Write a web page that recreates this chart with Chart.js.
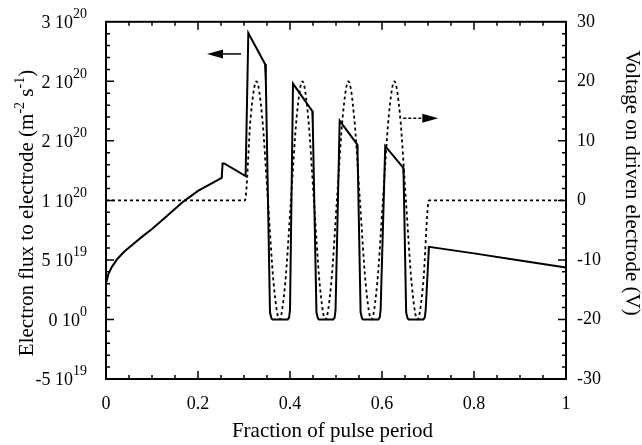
<!DOCTYPE html>
<html>
<head>
<meta charset="utf-8">
<script src="https://cdn.jsdelivr.net/npm/chart.js@4.4.0/dist/chart.umd.min.js"></script>
<style>
  html, body { margin: 0; padding: 0; background: #fff; }
  #chart { display: block; }
</style>
</head>
<body>
<canvas id="chart" width="642" height="445"></canvas>
<script>
// electron flux (solid line, left axis), in units of 1e20 m^-2 s^-1
const fluxX = [0, 0.005, 0.0125, 0.025, 0.04, 0.06, 0.08, 0.1, 0.13, 0.168, 0.2, 0.2515,
    0.2535, 0.257, 0.3035, 0.3094, 0.3457, 0.3475, 0.3565, 0.3595, 0.362,
    0.395, 0.398, 0.4, 0.4065, 0.4485, 0.4495, 0.4575, 0.4605, 0.463,
    0.494, 0.497, 0.499, 0.508, 0.546, 0.547, 0.5535, 0.5565, 0.559,
    0.592, 0.595, 0.597, 0.607, 0.646, 0.647, 0.6525, 0.6555, 0.658,
    0.69, 0.693, 0.695, 0.702, 0.8, 0.9, 1.0];
const fluxE20 = [0.30, 0.38, 0.44, 0.51, 0.57, 0.635, 0.70, 0.76, 0.86, 0.99, 1.08, 1.19,
    1.31, 1.31, 1.205, 2.405, 2.146, 2.0, 0.06, 0.01, 0,
    0, 0.015, 0.08, 1.98, 1.75, 1.65, 0.06, 0.01, 0,
    0, 0.015, 0.08, 1.67, 1.47, 1.38, 0.06, 0.01, 0,
    0, 0.015, 0.08, 1.455, 1.275, 1.2, 0.06, 0.01, 0,
    0, 0.015, 0.08, 0.61, 0.555, 0.495, 0.436];

// voltage on driven electrode (dashed line, right axis), V
const voltX = [0, 0.302, 0.3145, 0.327, 0.3395, 0.352, 0.3645, 0.377, 0.3895,
    0.402, 0.4145, 0.427, 0.4395, 0.452, 0.4645, 0.477, 0.4895,
    0.502, 0.5145, 0.527, 0.5395, 0.552, 0.5645, 0.577, 0.5895,
    0.602, 0.6145, 0.627, 0.6395, 0.652, 0.6645, 0.677, 0.6895,
    0.702, 1.0];
const voltY = [0, 0, 14, 20, 14, 0, -14, -20, -14,
    0, 14, 20, 14, 0, -14, -20, -14,
    0, 14, 20, 14, 0, -14, -20, -14,
    0, 14, 20, 14, 0, -14, -20, -14,
    0, 0];

// axes
const xTicks = [0, 0.2, 0.4, 0.6, 0.8, 1];
const xTickLabels = ['0', '0.2', '0.4', '0.6', '0.8', '1'];
const fluxTicks = [-0.5, 0, 0.5, 1, 1.5, 2, 2.5];
const fluxTickMantissa = ['-5', '0', '5', '1', '2', '2', '3'];
const fluxTickExponent = ['19', '0', '19', '20', '20', '20', '20'];
const voltTicks = [-30, -20, -10, 0, 10, 20, 30];
const voltTickLabels = ['-30', '-20', '-10', '0', '10', '20', '30'];

const SERIF = '"Liberation Serif", "Times New Roman", serif';

// arrows telling which axis belongs to which curve
const leftArrow = { tail: 0.2935, tip: 0.2196, y: 2.23, axis: 'yFlux', dash: [] };
const rightArrow = { tail: 0.6463, tip: 0.7224, y: 13.8, axis: 'yVolt', dash: [3, 2] };

// 坐标框、刻度、标题
const framePlugin = {
    id: 'frame',
    afterDraw(chart) {
        const ctx = chart.ctx;
        const ca = chart.chartArea;
        const xs = chart.scales.x;
        const yf = chart.scales.yFlux;
        const yv = chart.scales.yVolt;
        ctx.save();
        ctx.strokeStyle = '#000';
        ctx.fillStyle = '#000';
        ctx.lineWidth = 2;
        ctx.strokeRect(ca.left, ca.top, ca.right - ca.left, ca.bottom - ca.top);

        // inward ticks
        ctx.lineWidth = 1.5;
        ctx.beginPath();
        for (let i = 1; i < 20; i++) {
            const px = xs.getPixelForValue(i * 0.05);
            const len = i % 4 === 0 ? 8 : 4;
            ctx.moveTo(px, ca.bottom); ctx.lineTo(px, ca.bottom - len);
            ctx.moveTo(px, ca.top); ctx.lineTo(px, ca.top + len);
        }
        for (let i = -4; i < 25; i++) {
            const py = yf.getPixelForValue(i * 0.1);
            const len = i % 5 === 0 ? 8 : 4;
            ctx.moveTo(ca.left, py); ctx.lineTo(ca.left + len, py);
        }
        for (let i = -14; i < 15; i++) {
            const py = yv.getPixelForValue(i * 2);
            const len = i % 5 === 0 ? 8 : 4;
            ctx.moveTo(ca.right, py); ctx.lineTo(ca.right - len, py);
        }
        ctx.stroke();

        // left tick labels with superscript exponents
        ctx.textAlign = 'right';
        ctx.textBaseline = 'alphabetic';
        fluxTicks.forEach((v, i) => {
            const py = yf.getPixelForValue(v);
            ctx.font = '14px ' + SERIF;
            const wE = ctx.measureText(fluxTickExponent[i]).width;
            ctx.fillText(fluxTickExponent[i], 87, py - 3.6);
            ctx.font = '18px ' + SERIF;
            ctx.fillText(fluxTickMantissa[i] + ' 10', 87 - wE, py + 6.4);
        });

        // x title
        ctx.font = '21px ' + SERIF;
        ctx.textAlign = 'center';
        ctx.fillText('Fraction of pulse period', 332.5, 437);

        // right title
        ctx.save();
        ctx.translate(626, 183);
        ctx.rotate(Math.PI / 2);
        ctx.fillText('Voltage on driven electrode (V)', 0, 0);
        ctx.restore();

        // left title with superscripts
        const parts = [['Electron flux to electrode (m', false], ['-2', true], [' s', false], ['-1', true], [')', false]];
        const widths = parts.map(p => {
            ctx.font = (p[1] ? '14px ' : '21px ') + SERIF;
            return ctx.measureText(p[0]).width;
        });
        const total = widths.reduce((a, b) => a + b, 0);
        ctx.save();
        ctx.translate(32.5, 213);
        ctx.rotate(-Math.PI / 2);
        ctx.textAlign = 'left';
        let x0 = -total / 2;
        parts.forEach((p, i) => {
            ctx.font = (p[1] ? '14px ' : '21px ') + SERIF;
            ctx.fillText(p[0], x0, p[1] ? -9 : 0);
            x0 += widths[i];
        });
        ctx.restore();

        // arrows
        [leftArrow, rightArrow].forEach(a => {
            const ys = chart.scales[a.axis];
            const py = ys.getPixelForValue(a.y);
            const tx = xs.getPixelForValue(a.tail);
            const hx = xs.getPixelForValue(a.tip);
            const dir = hx > tx ? 1 : -1;
            const base = hx - dir * 16;
            ctx.lineWidth = 1.5;
            ctx.setLineDash(a.dash);
            ctx.beginPath();
            ctx.moveTo(tx, py); ctx.lineTo(base, py);
            ctx.stroke();
            ctx.setLineDash([]);
            ctx.beginPath();
            ctx.moveTo(hx, py);
            ctx.lineTo(base, py - 4.5);
            ctx.lineTo(base, py + 4.5);
            ctx.closePath();
            ctx.fill();
        });
        ctx.restore();
    }
};

const ctx = document.getElementById('chart');
new Chart(ctx, {
    type: 'line',
    data: {
        datasets: [{
            label: 'Electron flux',
            data: fluxX.map((x, i) => ({ x: x, y: fluxE20[i] })),
            yAxisID: 'yFlux',
            borderColor: '#000',
            borderWidth: 2,
            pointRadius: 0,
            tension: 0,
            fill: false
        }, {
            label: 'Voltage',
            data: voltX.map((x, i) => ({ x: x, y: voltY[i] })),
            yAxisID: 'yVolt',
            borderColor: '#000',
            borderWidth: 1.8,
            borderDash: [3, 3],
            cubicInterpolationMode: 'monotone',
            pointRadius: 0,
            fill: false
        }]
    },
    options: {
        responsive: false,
        animation: false,
        devicePixelRatio: 1,
        layout: { padding: { top: 21, left: 0, right: 0, bottom: 0 } },
        plugins: {
            legend: { display: false },
            tooltip: { enabled: false }
        },
        scales: {
            x: {
                type: 'linear',
                position: 'bottom',
                min: 0,
                max: 1,
                afterBuildTicks: s => { s.ticks = xTicks.map(v => ({ value: v })); },
                ticks: {
                    callback: (v, i) => xTickLabels[i],
                    font: { family: SERIF, size: 18 },
                    color: '#000',
                    padding: 14,
                    maxRotation: 0,
                    autoSkip: false
                },
                grid: { display: false, drawTicks: false },
                border: { display: false },
                afterFit: s => { s.height = 66; }
            },
            yFlux: {
                type: 'linear',
                position: 'left',
                min: -0.5,
                max: 2.5,
                afterBuildTicks: s => { s.ticks = fluxTicks.map(v => ({ value: v })); },
                ticks: { display: false },
                grid: { display: false, drawTicks: false },
                border: { display: false },
                afterFit: s => { s.width = 106; }
            },
            yVolt: {
                type: 'linear',
                position: 'right',
                min: -30,
                max: 30,
                afterBuildTicks: s => { s.ticks = voltTicks.map(v => ({ value: v })); },
                ticks: {
                    callback: (v, i) => voltTickLabels[i],
                    font: { family: SERIF, size: 18 },
                    color: '#000',
                    padding: 11,
                    autoSkip: false
                },
                grid: { display: false, drawTicks: false },
                border: { display: false },
                afterFit: s => { s.width = 76; }
            }
        }
    },
    plugins: [framePlugin]
});
</script>
</body>
</html>
